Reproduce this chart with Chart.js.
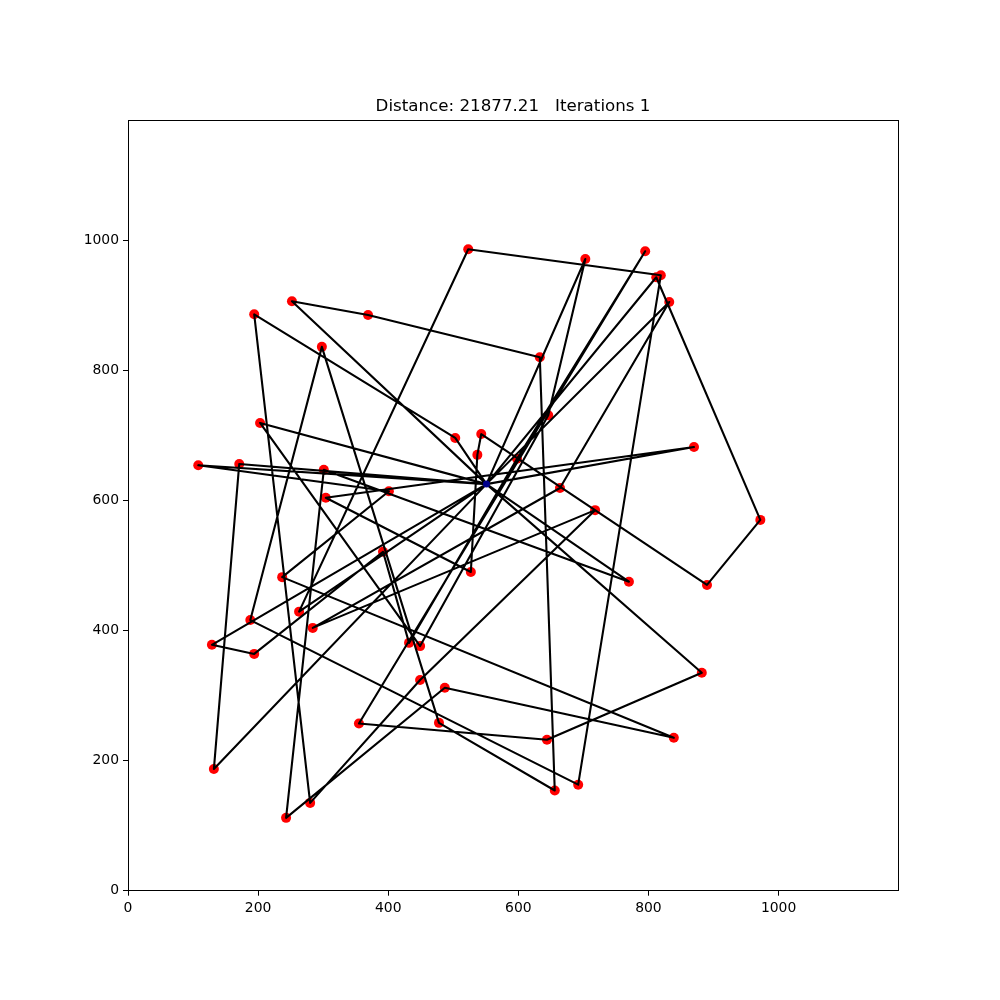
<!DOCTYPE html>
<html>
<head>
<meta charset="utf-8">
<title>Distance</title>
<script src="https://cdn.jsdelivr.net/npm/chart.js@4"></script>
<style>
    html, body { margin: 0; padding: 0; background: #fff; }
    canvas { display: block; }
</style>
</head>
<body>
<canvas id="tourChart" width="1000" height="1000"></canvas>
<script>
const titleText = "Distance: 21877.21   Iterations 1";
const tickValues = [0, 200, 400, 600, 800, 1000];

// cities (first one is the start, drawn blue)
const cityX = [551, 523, 703, 795, 812, 819, 832, 194, 252, 369, 633, 298, 646, 503, 543, 537, 203, 598, 870, 108, 171, 301, 304, 401, 664, 718, 972, 890, 770, 527, 392, 237, 188, 263, 284, 129, 194, 432, 449, 882, 449, 487, 478, 355, 644, 839, 132, 280, 243, 656, 692];
const cityY = [625, 986, 971, 983, 943, 946, 905, 886, 906, 885, 820, 836, 731, 696, 702, 670, 719, 664, 682, 654, 656, 647, 604, 614, 619, 585, 570, 470, 475, 490, 521, 482, 416, 429, 404, 378, 364, 381, 376, 335, 324, 312, 258, 257, 232, 235, 187, 135, 112, 154, 163];

// visiting order, goes back through the start several times
const tourX = [551, 252, 369, 633, 656, 478, 298, 188, 692, 819, 523, 263, 551, 503, 194, 280, 449, 718, 284, 664, 832, 551, 812, 972, 890, 543, 537, 527, 304, 870, 551, 108, 401, 237, 839, 487, 243, 301, 770, 551, 882, 644, 355, 795, 598, 432, 392, 194, 129, 551, 703, 646, 449, 203, 551, 171, 132, 551];
const tourY = [625, 906, 885, 820, 154, 258, 836, 416, 163, 946, 986, 429, 625, 696, 886, 135, 324, 585, 404, 619, 905, 625, 943, 570, 470, 702, 670, 490, 604, 682, 625, 654, 614, 482, 235, 312, 112, 647, 475, 625, 335, 232, 257, 983, 664, 381, 521, 364, 378, 625, 971, 731, 376, 719, 625, 656, 187, 625];

const frameBox = {
    id: "frameBox",
    afterDraw: function(chart) {
        const a = chart.chartArea;
        const ctx = chart.ctx;
        ctx.save();
        ctx.strokeStyle = "#000";
        ctx.lineWidth = 1;
        ctx.strokeRect(Math.floor(a.left) + 0.5, Math.floor(a.top) + 0.5, Math.round(a.right - a.left), Math.round(a.bottom - a.top));
        ctx.restore();
    }
};

function toPoints(xs, ys) {
    return xs.map((x, i) => ({ x: x, y: ys[i] }));
}

const tickFont = { family: "DejaVu Sans", size: 13.9 };

function axis(fit) {
    return {
        type: "linear",
        min: 0,
        max: 1183.6,
        afterFit: fit,
        afterBuildTicks: function(s) { s.ticks = tickValues.map(v => ({ value: v })); },
        border: { color: "#000", width: 1 },
        grid: { drawOnChartArea: false, drawTicks: true, tickLength: 5, tickColor: "#000", tickWidth: 1 },
        ticks: {
            color: "#000",
            font: tickFont,
            padding: 4,
            maxRotation: 0,
            autoSkip: false,
            callback: function(v) { return String(v); }
        }
    };
}

new Chart(document.getElementById("tourChart").getContext("2d"), {
    type: "scatter",
    data: {
        datasets: [
            {
                label: "start",
                data: toPoints(cityX.slice(0, 1), cityY.slice(0, 1)),
                backgroundColor: "#00008b",
                borderWidth: 0,
                pointRadius: 3.5,
                order: 0
            },
            {
                label: "tour",
                data: toPoints(tourX, tourY),
                showLine: true,
                borderColor: "#000",
                borderWidth: 2.1,
                borderJoinStyle: "round",
                borderCapStyle: "round",
                pointRadius: 0,
                tension: 0,
                order: 1
            },
            {
                label: "cities",
                data: toPoints(cityX.slice(1), cityY.slice(1)),
                backgroundColor: "#ff0000",
                borderWidth: 0,
                pointRadius: 5,
                order: 3
            }
        ]
    },
    options: {
        responsive: false,
        animation: false,
        devicePixelRatio: 1,
        layout: { padding: { right: 102 } },
        plugins: {
            legend: { display: false },
            tooltip: { enabled: false },
            title: {
                display: true,
                fullSize: false,
                text: titleText,
                color: "#000",
                font: { family: "DejaVu Sans", size: 16.7, weight: "normal" },
                padding: { top: 97, bottom: 3.7 }
            }
        },
        scales: {
            x: axis(function(s) { s.height = 109.3; }),
            y: axis(function(s) { s.width = 128; })
        }
    },
    plugins: [frameBox]
});
</script>
</body>
</html>
